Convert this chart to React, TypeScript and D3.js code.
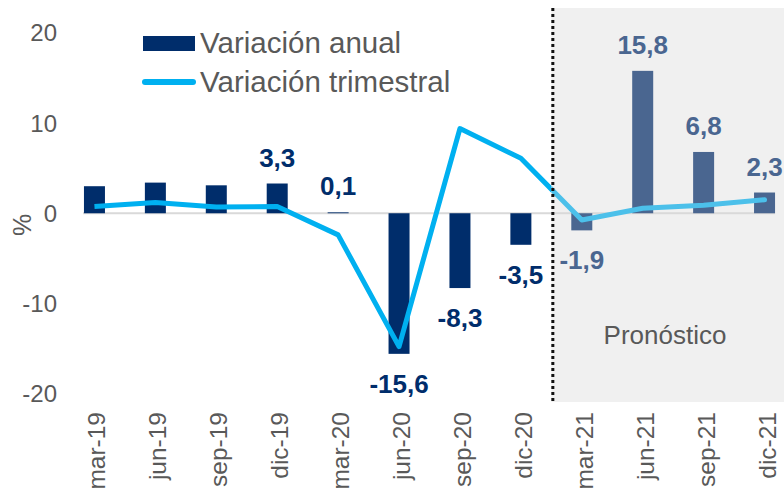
import { scaleBand, scaleLinear, line } from "d3";

const width = 784;
const height = 492;

const categories = [
  "mar-19", "jun-19", "sep-19", "dic-19",
  "mar-20", "jun-20", "sep-20", "dic-20",
  "mar-21", "jun-21", "sep-21", "dic-21",
];
const anual = [3.0, 3.4, 3.1, 3.3, 0.1, -15.6, -8.3, -3.5, -1.9, 15.8, 6.8, 2.3];
const trimestral = [0.75, 1.2, 0.7, 0.75, -2.4, -14.8, 9.4, 6.1, -0.75, 0.55, 0.9, 1.5];
const labelled = ["dic-19", "mar-20", "jun-20", "sep-20", "dic-20", "mar-21", "jun-21", "sep-21", "dic-21"];
const forecastStart = "mar-21";
const yTicks = [-20, -10, 0, 10, 20];

const navy = "#002D6B";
const navyLight = "#4A6690";
const cyan = "#00B0F0";
const cyanLight = "#4CC0EA";
const grey = "#595959";
const font = "'Liberation Sans', Arial, sans-serif";

export default function App() {
  const x = scaleBand().domain(categories).range([64, 795]);
  const y = scaleLinear().domain([-20, 20]).range([393.5, 33]);
  const cx = (c: string) => (x(c) ?? 0) + x.bandwidth() / 2;
  const barW = 21;
  const split = x(forecastStart) ?? 0;
  const isForecast = (i: number) => i >= categories.indexOf(forecastStart);

  const path = line<number>()
    .x((_, i) => cx(categories[i]))
    .y((d) => y(d))(trimestral) ?? "";

  return (
    <svg width={width} height={height} style={{ position: "absolute", left: 0, top: 0, fontFamily: font }}>
      <defs>
        <clipPath id="past"><rect x={0} y={0} width={split} height={height} /></clipPath>
        <clipPath id="future"><rect x={split} y={0} width={width - split} height={height} /></clipPath>
      </defs>

      {/* zona de pronostico */}
      <rect x={split} y={8} width={width - split} height={394} fill="#F0F0F0" />
      <text x={665} y={344} textAnchor="middle" fontSize={26} fill={grey}>Pronóstico</text>

      {yTicks.map((t) => (
        <text key={t} x={57} y={y(t)} dy="0.35em" textAnchor="end" fontSize={24} fill={grey}>{t}</text>
      ))}
      <text transform={`translate(31,225) rotate(-90)`} textAnchor="middle" fontSize={25} fill={grey}>%</text>

      <line x1={83} x2={cx(categories[11]) + barW / 2} y1={y(0)} y2={y(0)} stroke="#D9D9D9" strokeWidth={2} />

      {anual.map((v, i) => (
        <rect key={categories[i]}
          x={cx(categories[i]) - barW / 2} width={barW}
          y={y(Math.max(0, v))} height={Math.abs(y(v) - y(0))}
          fill={isForecast(i) ? navyLight : navy} />
      ))}

      <path d={path} fill="none" stroke={cyan} strokeWidth={5} strokeLinejoin="round" clipPath="url(#past)" />
      <path d={path} fill="none" stroke={cyanLight} strokeWidth={5} strokeLinejoin="round" strokeLinecap="round" clipPath="url(#future)" />

      <line x1={split + 1.5} x2={split + 1.5} y1={8} y2={402} stroke="#111" strokeWidth={3} strokeDasharray="3 3" />

      {anual.map((v, i) => labelled.includes(categories[i]) && (
        <text key={"l" + i} x={cx(categories[i])} y={v >= 0 ? y(v) - 17 : y(v) + 39}
          textAnchor="middle" fontSize={26} fontWeight="bold" fill={isForecast(i) ? navyLight : navy}>
          {String(v).replace(".", ",")}
        </text>
      ))}

      {categories.map((c) => (
        <text key={c} transform={`translate(${cx(c) + 11},412) rotate(-90)`} textAnchor="end" fontSize={24.5} fill={grey}>{c}</text>
      ))}

      {/* leyenda */}
      <rect x={143} y={36} width={52} height={15} fill={navy} />
      <text x={200} y={53} fontSize={29.5} fill={grey}>Variación anual</text>
      <line x1={145} x2={193} y1={82} y2={82} stroke={cyan} strokeWidth={6} strokeLinecap="round" />
      <text x={200} y={92} fontSize={29.5} fill={grey}>Variación trimestral</text>
    </svg>
  );
}
